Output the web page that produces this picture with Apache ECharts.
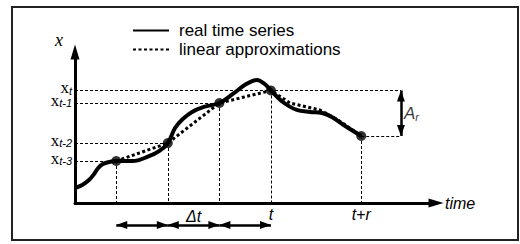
<!DOCTYPE html>
<html>
<head>
<meta charset="utf-8">
<title>Time series approximation</title>
<script src="https://cdn.jsdelivr.net/npm/echarts@6/dist/echarts.min.js"></script>
</head>
<body style="margin: 0; background: #fff">
<div id="container" style="width: 520px; height: 244px"></div>
<script>
// real series (x in units of time, y in units of x)
let realX = [0, 0.14, 0.27, 0.37, 0.45, 0.54, 0.66, 0.8, 1.12, 1.4, 1.63, 1.8, 1.94, 2.09, 2.27, 2.5, 2.8, 3.06, 3.32, 3.53, 3.68, 3.8, 4.03, 4.3, 4.56, 4.79, 4.98, 5.24, 5.55];
let realY = [0.99, 1.19, 1.52, 1.92, 2.32, 2.58, 2.72, 2.78, 2.78, 3.05, 3.44, 3.97, 4.97, 5.56, 6.03, 6.36, 6.62, 7.22, 7.88, 8.15, 7.88, 7.45, 6.69, 6.16, 6.03, 5.96, 5.7, 5.1, 4.44];

// dotted approximation
let approxX = [0.8, 1.8, 2.8, 3.8, 4.17, 4.5, 4.75, 5.1, 5.55];
let approxY = [2.78, 3.97, 6.62, 7.45, 6.62, 6.36, 6.16, 5.5, 4.44];

// sample points t-3, t-2, t-1, t, t+r
let pointX = [0.8, 1.8, 2.8, 3.8, 5.55];
let pointY = [2.78, 3.97, 6.62, 7.45, 4.44];
let yTickNames = ["t-3", "t-2", "t-1", "t"];
let timeTicks = [3.8, 5.55];
let timeNames = ["t", "t+r"];
let ampX = 6.32;

function zip(xs, ys) {
    return xs.map(function (x, i) { return [x, ys[i]]; });
}

// end of an arrow line: triangle head whose tip sits on the point
function arrowEnd(x, y) {
    return { coord: [x, y], symbol: "triangle", symbolSize: [8, 11], symbolOffset: [0, 5.5] };
}

// dashed guides, the horizontal ones carry the x_t labels on the y axis side
let guides = [];
for (let i = 0; i < 4; i++) {
    guides.push([{
        coord: [0, pointY[i]],
        label: { show: true, position: "start", distance: 3, formatter: "{x|x}{s|" + yTickNames[i] + "}" }
    }, { coord: [i === 3 ? ampX : pointX[i], pointY[i]] }]);
}
guides.push([{ coord: [pointX[4], pointY[4]] }, { coord: [ampX, pointY[4]] }]);
for (let i = 0; i < 5; i++) {
    guides.push([{ coord: [pointX[i], pointY[i]] }, { coord: [pointX[i], 0] }]);
}

let spans = [];
for (let i = 0; i < 3; i++) {
    let item = [arrowEnd(pointX[i], 1), arrowEnd(pointX[i + 1], 1)];
    if (i === 1) {
        item[0].label = { show: true, formatter: "Δt", position: "middle", distance: 1 };
    }
    spans.push(item);
}

let chart = echarts.init(document.getElementById("container"), null, { renderer: "svg" });

let arrowLine = {
    silent: true,
    symbol: ["triangle", "triangle"],
    symbolSize: 10,
    itemStyle: { color: "#000" },
    lineStyle: { color: "#000", width: 2.5, type: "solid" },
    label: { show: false }
};

let option = {
    animation: false,
    backgroundColor: "#fff",
    graphic: [{
        type: "rect",
        shape: { x: 12, y: 7, width: 506, height: 233 },
        style: { fill: "none", stroke: "#222", lineWidth: 2 },
        silent: true
    }],
    legend: {
        data: ["real time series", "linear approximations"],
        orient: "vertical",
        left: 127,
        top: 16,
        itemWidth: 36,
        itemHeight: 14,
        itemGap: 0,
        itemStyle: { opacity: 0 },
        textStyle: { fontFamily: "Liberation Sans", fontSize: 17, color: "#000", lineHeight: 19, padding: [0, 0, 0, 5] }
    },
    grid: [
        { left: 75, right: 84, top: 52, bottom: 41 },
        { left: 75, right: 84, top: 205, bottom: 9 }
    ],
    xAxis: [{
        gridIndex: 0,
        type: "value",
        min: 0,
        max: 7,
        name: "time",
        nameLocation: "end",
        nameGap: 9,
        nameTextStyle: { fontFamily: "Liberation Sans", fontStyle: "italic", fontSize: 16, color: "#000", verticalAlign: "middle", padding: [0, 0, 8, 0] },
        axisLine: { lineStyle: { color: "#000", width: 3 }, symbol: ["none", "triangle"], symbolSize: [9, 15] },
        axisTick: { show: false },
        splitLine: { show: false },
        axisLabel: {
            customValues: timeTicks,
            margin: 3,
            showMinLabel: true,
            showMaxLabel: true,
            fontFamily: "Liberation Sans",
            fontStyle: "italic",
            fontSize: 16,
            color: "#000",
            formatter: function (v) { return timeNames[timeTicks.indexOf(v)]; }
        }
    }, {
        gridIndex: 1,
        type: "value",
        min: 0,
        max: 7,
        show: false
    }],
    yAxis: [{
        gridIndex: 0,
        type: "value",
        min: 0,
        max: 10,
        name: "x",
        nameLocation: "end",
        nameGap: 12,
        nameTextStyle: { fontFamily: "Liberation Serif", fontStyle: "italic", fontSize: 18, color: "#000", align: "right", verticalAlign: "middle", padding: [0, 12, 0, 0] },
        axisLine: { lineStyle: { color: "#000", width: 3 }, symbol: ["none", "triangle"], symbolSize: [9, 15] },
        axisTick: { show: false },
        splitLine: { show: false },
        axisLabel: { show: false }
    }, {
        gridIndex: 1,
        type: "value",
        min: 0,
        max: 3,
        show: false
    }],
    series: [{
        name: "real time series",
        type: "line",
        xAxisIndex: 0,
        yAxisIndex: 0,
        data: zip(realX, realY),
        smooth: 0.35,
        symbol: "none",
        lineStyle: { color: "#000", width: 4 },
        itemStyle: { color: "#000" },
        z: 3
    }, {
        name: "linear approximations",
        type: "line",
        xAxisIndex: 0,
        yAxisIndex: 0,
        data: zip(approxX, approxY),
        symbol: "none",
        lineStyle: { color: "#000", width: 3, type: [3, 2.5] },
        itemStyle: { color: "#000" },
        z: 4
    }, {
        name: "points",
        type: "scatter",
        xAxisIndex: 0,
        yAxisIndex: 0,
        data: zip(pointX, pointY),
        symbolSize: 10,
        itemStyle: { color: "#000" },
        z: 5,
        markLine: {
            silent: true,
            symbol: ["none", "none"],
            label: {
                show: false,
                rich: {
                    x: { fontFamily: "Liberation Serif", fontSize: 17, color: "#000", lineHeight: 11, verticalAlign: "bottom" },
                    s: { fontFamily: "Liberation Sans", fontStyle: "italic", fontSize: 11, color: "#000", lineHeight: 8, verticalAlign: "bottom" }
                }
            },
            lineStyle: { color: "#000", width: 1, type: [3, 2] },
            data: guides
        }
    }, {
        name: "amplitude",
        type: "scatter",
        xAxisIndex: 0,
        yAxisIndex: 0,
        data: [[ampX, (pointY[3] + pointY[4]) / 2]],
        symbolSize: 0,
        itemStyle: { color: "transparent" },
        label: {
            show: true,
            position: "right",
            distance: 3,
            formatter: "{a|A}{r|r}",
            rich: {
                a: { fontFamily: "Liberation Sans", fontStyle: "italic", fontSize: 17, color: "#000", lineHeight: 18, verticalAlign: "bottom" },
                r: { fontFamily: "Liberation Sans", fontStyle: "italic", fontSize: 11, color: "#000", lineHeight: 12, verticalAlign: "bottom" }
            }
        },
        markLine: Object.assign({}, arrowLine, {
            data: [[arrowEnd(ampX, pointY[3]), arrowEnd(ampX, pointY[4])]]
        })
    }, {
        name: "spans",
        type: "scatter",
        xAxisIndex: 1,
        yAxisIndex: 1,
        data: pointX.slice(0, 4).map(function (x) { return [x, 1]; }),
        symbolSize: 0,
        itemStyle: { color: "transparent" },
        markLine: Object.assign({}, arrowLine, {
            label: { show: false, color: "#000", fontFamily: "Liberation Sans", fontStyle: "italic", fontSize: 16 },
            data: spans
        })
    }]
};

chart.setOption(option);
</script>
</body>
</html>
